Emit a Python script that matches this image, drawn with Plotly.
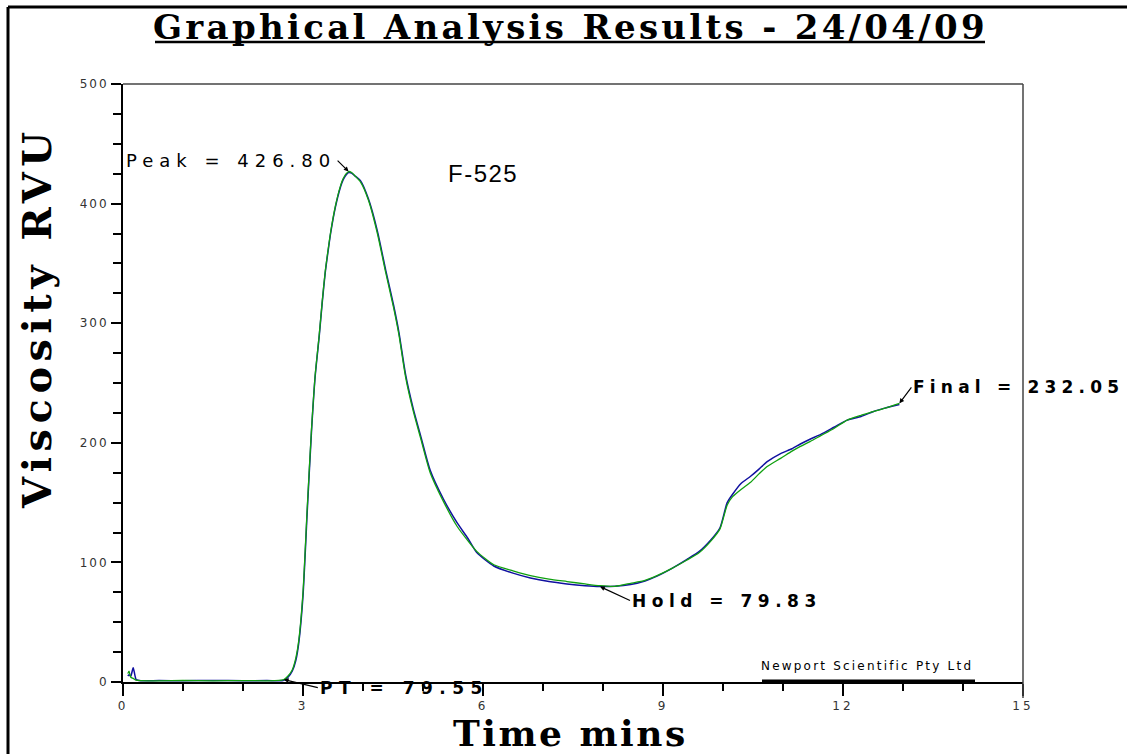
import plotly.graph_objects as go

# ---------------- data ----------------
time_min = [0.08, 0.1, 0.13, 0.17, 0.22, 0.3, 0.6, 1.0, 1.5, 2.0, 2.4, 2.6, 2.68, 2.75, 2.82, 2.88,
            2.93, 3.0, 3.07, 3.14, 3.2, 3.27, 3.32, 3.37, 3.42, 3.46, 3.54, 3.62, 3.67, 3.72, 3.76,
            3.81, 3.87, 3.96, 4.09, 4.24, 4.38, 4.51, 4.6, 4.71, 4.84, 4.96, 5.12, 5.34, 5.57,
            5.75, 5.9, 6.18, 6.5, 6.79, 7.1, 7.4, 7.7, 7.95, 8.2, 8.46, 8.7, 8.9, 9.15, 9.4, 9.6,
            9.8, 9.95, 10.07, 10.16, 10.3, 10.46, 10.6, 10.73, 10.96, 11.15, 11.29, 11.45, 11.63,
            11.85, 12.07, 12.3, 12.5, 12.7, 12.94]

visc_green = [7, 9, 4, 3, 1.5, 1.2, 1.0, 1.3, 1.0, 1.2, 1.0, 1.3, 2, 5, 10, 20,
              35, 75, 145, 210, 255, 290, 318, 343, 362, 376, 398, 414, 421, 425, 426.8,
              426, 423, 418, 403, 375, 342, 313, 290, 255, 226, 204, 175, 151, 130,
              118, 109, 98, 93, 89, 86, 84, 82, 80.5, 80, 82.5, 85, 89, 95, 102, 108,
              118, 128, 148, 155, 161, 167, 174, 180, 187, 193, 197, 201, 206,
              212, 219, 223, 226, 229, 233]

visc_blue = [5, 6, 5, 12, 2, 1.0, 1.2, 1.0, 1.3, 1.0, 1.2, 1.0, 1.5, 4, 9, 18,
             33, 72, 142, 208, 254, 289, 317, 342, 361, 375, 397, 413, 420, 424, 426,
             425.5, 423, 419, 404, 377, 344, 315, 292, 257, 228, 206, 177, 153, 133,
             120, 108, 97, 91, 87, 84, 82, 80.5, 79.8, 80, 81.5, 84.5, 88.5, 95, 102.5, 109,
             119, 129, 150, 157, 166, 172, 178, 184, 191, 195, 199, 203, 207,
             213, 219, 222, 226, 229, 232]

x_tick_vals = [0, 3, 6, 9, 12, 15]
x_tick_text = ["0", "3", "6", "9", "12", "15"]
y_tick_vals = [0, 100, 200, 300, 400, 500]
y_tick_text = ["0", "100", "200", "300", "400", "500"]

title_text = "Graphical Analysis Results - 24/04/09"
x_title = "Time mins"
y_title = "Viscosity RVU"
sample_label = "F-525"
peak_label = "Peak = 426.80"
pt_label = "PT = 79.55"
hold_label = "Hold = 79.83"
final_label = "Final = 232.05"
credit_label = "Newport Scientific Pty Ltd"

# ---------------- layout geometry ----------------
W, H = 1127, 754
L, R, T, B = 123, 104, 84, 72
PW, PH = W - L - R, H - T - B


def pap(px, py):
    return (px - L) / PW, (H - B - py) / PH


def spaced(txt, sp):
    return f"<span style='letter-spacing:{sp}px'>{txt}</span>"


fig = go.Figure()
fig.add_trace(go.Scatter(x=time_min, y=visc_blue, mode="lines", line_shape="spline",
                         line=dict(color="#1010a0", width=1.5, smoothing=0.6), name="blue"))
fig.add_trace(go.Scatter(x=time_min, y=visc_green, mode="lines", line_shape="spline",
                         line=dict(color="#10a010", width=1.3, smoothing=0.6), name="green"))

tickfont = dict(family="DejaVu Sans", size=12, color="#333333")

fig.update_layout(
    width=W, height=H, autosize=False,
    margin=dict(l=L, r=R, t=T, b=B, pad=0),
    paper_bgcolor="white", plot_bgcolor="white",
    showlegend=False,
    xaxis=dict(range=[0, 15], showgrid=False, zeroline=False, showline=True,
               linecolor="black", linewidth=2, ticks="outside", ticklen=12,
               tickwidth=1.5, tickcolor="black",
               tickvals=x_tick_vals, ticktext=[spaced(t, 3) for t in x_tick_text],
               tickfont=tickfont,
               minor=dict(dtick=1, ticks="outside", ticklen=7, tickwidth=1.5,
                          tickcolor="black", showgrid=False)),
    yaxis=dict(range=[0, 500], showgrid=False, zeroline=False, showline=True,
               linecolor="black", linewidth=2, ticks="outside", ticklen=10,
               tickwidth=1.5, tickcolor="black",
               tickvals=y_tick_vals, ticktext=[spaced(t, 2) for t in y_tick_text],
               tickfont=tickfont,
               minor=dict(dtick=25, ticks="outside", ticklen=8, tickwidth=1.5,
                          tickcolor="black", showgrid=False)),
)

shapes = []
# top & right frame of the plot box
shapes.append(dict(type="line", xref="paper", yref="paper", x0=0, x1=1, y0=1, y1=1,
                   line=dict(color="#444444", width=1.5)))
_, y1p = pap(0, 698)
shapes.append(dict(type="line", xref="paper", yref="paper", x0=1, x1=1, y0=y1p, y1=1,
                   line=dict(color="#444444", width=1.5)))
# outer page frame (top & left)
fx, fy = pap(8, 7)
_, fyb = pap(0, 760)
fxr, _ = pap(1130, 0)
shapes.append(dict(type="line", xref="paper", yref="paper", x0=fx, x1=fxr, y0=fy, y1=fy,
                   line=dict(color="black", width=3)))
shapes.append(dict(type="line", xref="paper", yref="paper", x0=fx, x1=fx, y0=fyb, y1=fy,
                   line=dict(color="black", width=3)))
# title underline
ux0, uy = pap(155, 42)
ux1, _ = pap(985, 42)
shapes.append(dict(type="line", xref="paper", yref="paper", x0=ux0, x1=ux1, y0=uy, y1=uy,
                   line=dict(color="black", width=2.5)))
# credit underline (thickened axis)
cx0, cy = pap(762, 681)
cx1, _ = pap(975, 681)
shapes.append(dict(type="line", xref="paper", yref="paper", x0=cx0, x1=cx1, y0=cy, y1=cy,
                   line=dict(color="black", width=3)))
fig.update_layout(shapes=shapes)

ann = []
tx, ty = pap(570, 27)
ann.append(dict(xref="paper", yref="paper", x=tx, y=ty, xanchor="center", yanchor="middle",
                text=spaced(title_text, 3.3), showarrow=False,
                font=dict(family="DejaVu Serif", size=34, color="black", weight="bold")))
xx, xy = pap(570, 733)
ann.append(dict(xref="paper", yref="paper", x=xx, y=xy, xanchor="center", yanchor="middle",
                text=spaced(x_title, 2.5), showarrow=False,
                font=dict(family="DejaVu Serif", size=36, color="black", weight="bold")))
yx, yy = pap(36, 318)
ann.append(dict(xref="paper", yref="paper", x=yx, y=yy, xanchor="center", yanchor="middle",
                text=spaced(y_title, 5.5), showarrow=False, textangle=-90,
                font=dict(family="DejaVu Serif", size=40, color="black", weight="bold")))
# sample name
ann.append(dict(x=6.0, y=425, xref="x", yref="y", text=spaced(sample_label, 1.5),
                showarrow=False, xanchor="center", yanchor="middle",
                font=dict(family="Liberation Sans", size=24, color="black")))
# credit
crx, cry = pap(975, 675)
ann.append(dict(xref="paper", yref="paper", x=crx, y=cry, xanchor="right", yanchor="bottom",
                text=spaced(credit_label, 2.2), showarrow=False,
                font=dict(family="DejaVu Sans", size=12, color="black")))

# key points taken from the data
i_peak = max(range(len(visc_green)), key=lambda i: visc_green[i])
hold_idx = [i for i in range(len(time_min)) if time_min[i] > 5]
i_hold = min(hold_idx, key=lambda i: visc_blue[i])
i_pt = time_min.index(2.68)
i_final = len(time_min) - 1

arrow = dict(showarrow=True, arrowhead=2, arrowsize=0.8, arrowwidth=1.2, arrowcolor="black",
             standoff=0, xref="x", yref="y")
ann.append(dict(x=time_min[i_peak], y=visc_green[i_peak], ax=-11, ay=-11,
                xanchor="right", yanchor="middle", text=spaced(peak_label, 6),
                font=dict(family="DejaVu Sans", size=18, color="black"), **arrow))
ann.append(dict(x=time_min[i_pt], y=visc_green[i_pt], ax=34, ay=8,
                xanchor="left", yanchor="middle", text=spaced(pt_label, 6.5),
                font=dict(family="DejaVu Sans", size=17, color="black", weight="bold"), **arrow))
ann.append(dict(x=time_min[i_hold], y=visc_blue[i_hold], ax=30, ay=14,
                xanchor="left", yanchor="middle", text=spaced(hold_label, 5.5),
                font=dict(family="DejaVu Sans", size=17, color="black", weight="bold"), **arrow))
ann.append(dict(x=time_min[i_final], y=visc_green[i_final], ax=12, ay=-16,
                xanchor="left", yanchor="middle", text=spaced(final_label, 5.2),
                font=dict(family="DejaVu Sans", size=17, color="black", weight="bold"), **arrow))
fig.update_layout(annotations=ann)

fig.write_html("out.html")
